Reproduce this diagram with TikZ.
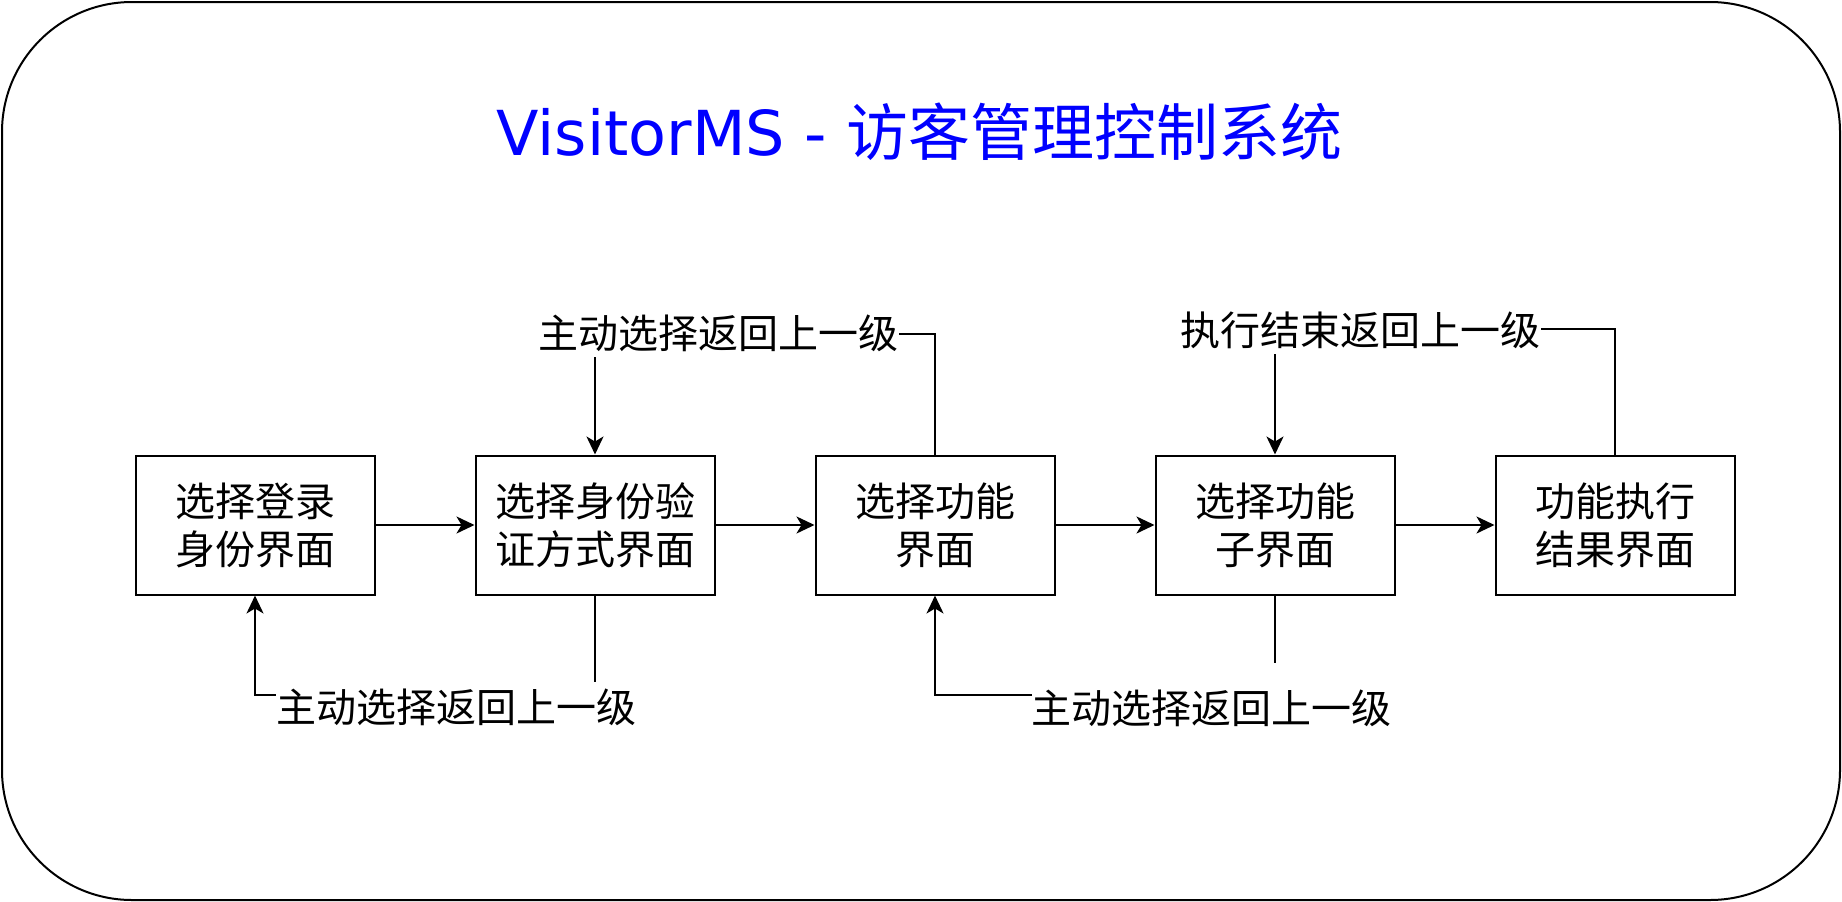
\documentclass[tikz,border=0pt]{standalone}
\usepackage{fontspec}
\newfontfamily\cjk{Noto Sans CJK SC}
\newfontfamily\titlelat{DejaVu Sans}
\usetikzlibrary{positioning,arrows.meta}

\begin{document}
\begin{tikzpicture}[x=1pt, y=1pt, line width=2pt,
	box/.style={draw, minimum width=239pt, minimum height=139pt, align=center,
		font=\cjk\fontsize{40}{48}\selectfont},
	lbl/.style={fill=white, inner xsep=0pt, inner ysep=4pt, text height=35pt, text depth=5pt,
		font=\cjk\fontsize{40}{48}\selectfont},
	arr/.style={-{Stealth[length=18pt, width=17pt, inset=5pt]}}]

\useasboundingbox (0, 0) rectangle (1842, -902);
\draw[rounded corners=130pt] (2, -2) rectangle (1840, -900);

\node[text=blue] (title) at (919.5, -132)
	{\fontsize{62}{74}\selectfont\titlelat VisitorMS - \cjk 访客管理控制系统};

\node[box] (login) at (255, -525) {选择登录\\身份界面};
\node[box, right=99pt of login] (auth) {选择身份验\\证方式界面};
\node[box, right=99pt of auth] (func) {选择功能\\界面};
\node[box, right=99pt of func] (sub) {选择功能\\子界面};
\node[box, right=99pt of sub] (result) {功能执行\\结果界面};

\foreach \a/\b in {login/auth, auth/func, func/sub, sub/result}
\draw[arr] (\a) -- (\b);

\coordinate (upA) at (func.north |- 0, -334);
\coordinate (upB) at (result.north |- 0, -329);
\coordinate (downA) at (auth.south |- 0, -695);
\coordinate (downB) at (sub.south |- 0, -695);

\draw[arr] (func.north) -- (upA) -| (auth.north);
\draw[arr] (result.north) -- (upB) -| (sub.north);
\draw[arr] (auth.south) -- (downA) -| (login.south);
\draw[arr] (sub.south) -- (downB) -| (func.south);

\node[lbl] (backA) at (718.5, -333) {主动选择返回上一级};
\node[lbl] (backB) at (1360.5, -330) {执行结束返回上一级};
\node[lbl, inner ysep=5pt] (backC) at (456, -707) {主动选择返回上一级};
\node[lbl, inner ysep=25pt] (backD) at (1211.5, -708) {主动选择返回上一级};

\end{tikzpicture}
\end{document}
